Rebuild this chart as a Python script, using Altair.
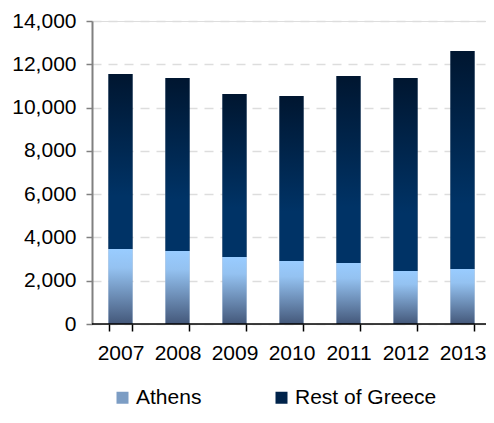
import altair as alt
import pandas as pd

years = ["2007", "2008", "2009", "2010", "2011", "2012", "2013"]
athens = [3460, 3370, 3090, 2910, 2820, 2450, 2540]
rest_of_greece = [8090, 8000, 7540, 7630, 8640, 8920, 10070]
series = ["Athens", "Rest of Greece"]
y_ticks = [0, 2000, 4000, 6000, 8000, 10000, 12000, 14000]

rows = []
for i, yr in enumerate(years):
    rows.append({"year": yr, "series": series[0], "value": athens[i], "ord": 0})
    rows.append({"year": yr, "series": series[1], "value": rest_of_greece[i], "ord": 1})
df = pd.DataFrame(rows)

grad_athens = {
    "gradient": "linear", "x1": 0, "y1": 0, "x2": 0, "y2": 1,
    "stops": [
        {"offset": 0, "color": "#99CCFF"},
        {"offset": 0.25, "color": "#94C2F1"},
        {"offset": 1, "color": "#44587A"},
    ],
}
grad_rest = {
    "gradient": "linear", "x1": 0, "y1": 0, "x2": 0, "y2": 1,
    "stops": [
        {"offset": 0, "color": "#001630"},
        {"offset": 0.7, "color": "#003366"},
        {"offset": 1, "color": "#003366"},
    ],
}

FONT = "Liberation Sans"
FS = 21

x_enc = alt.X(
    "year:O", title=None,
    scale=alt.Scale(paddingInner=0.58, paddingOuter=0.29, range=[0, 399]),
    axis=alt.Axis(labelFontSize=FS, labelFont=FONT, labelColor="#000000", labelAngle=0,
                  tickBand="extent", tickSize=7, tickColor="#000000", tickWidth=1.5,
                  domain=False, labelPadding=11, grid=False),
)
y_enc = alt.Y(
    "value:Q", title=None, stack="zero",
    scale=alt.Scale(domain=[0, 14000], nice=False),
    axis=alt.Axis(values=y_ticks, format=",d", labelFontSize=FS, labelFont=FONT,
                  labelColor="#000000", tickSize=6, tickColor="#808080", tickWidth=1.5,
                  domainColor="#808080", domainWidth=2, labelPadding=10,
                  grid=True, gridColor="#DDDDDD", gridDash=[9, 7], gridWidth=1.5),
)

legend_layer = alt.Chart(df).mark_bar().encode(
    x=x_enc,
    y=y_enc,
    order=alt.Order("ord:Q"),
    color=alt.Color(
        "series:N",
        scale=alt.Scale(domain=series, range=["#7C9DC4", "#00234A"]),
        legend=alt.Legend(title=None, orient="none", legendX=20, legendY=366,
                          direction="horizontal", symbolType="square", symbolSize=144,
                          symbolStrokeWidth=0, labelFontSize=FS, labelFont=FONT,
                          labelColor="#000000", labelOffset=3, columnPadding=69,
                          padding=0),
    ),
)

grad_layer = alt.Chart(df).mark_bar().encode(
    x=x_enc,
    y=y_enc,
    order=alt.Order("ord:Q"),
    detail="series:N",
    fill=alt.condition(alt.datum.series == "Athens", alt.value(grad_athens), alt.value(grad_rest)),
)

baseline = alt.Chart(pd.DataFrame({"v": [0]})).mark_rule(color="#000000", strokeWidth=1.5).encode(
    y=alt.Y("v:Q", scale=alt.Scale(domain=[0, 14000], nice=False)),
    x=alt.value(0), x2=alt.value(400),
)

chart = alt.layer(legend_layer, grad_layer, baseline).properties(
    width=394, height=303,
    autosize=alt.AutoSizeParams(type="none"),
    padding={"left": 84, "top": 13, "right": 0, "bottom": 87},
).configure_view(stroke=None).configure(background="#FFFFFF")

chart.save("out.html", embed_options={"renderer": "svg", "actions": False})
